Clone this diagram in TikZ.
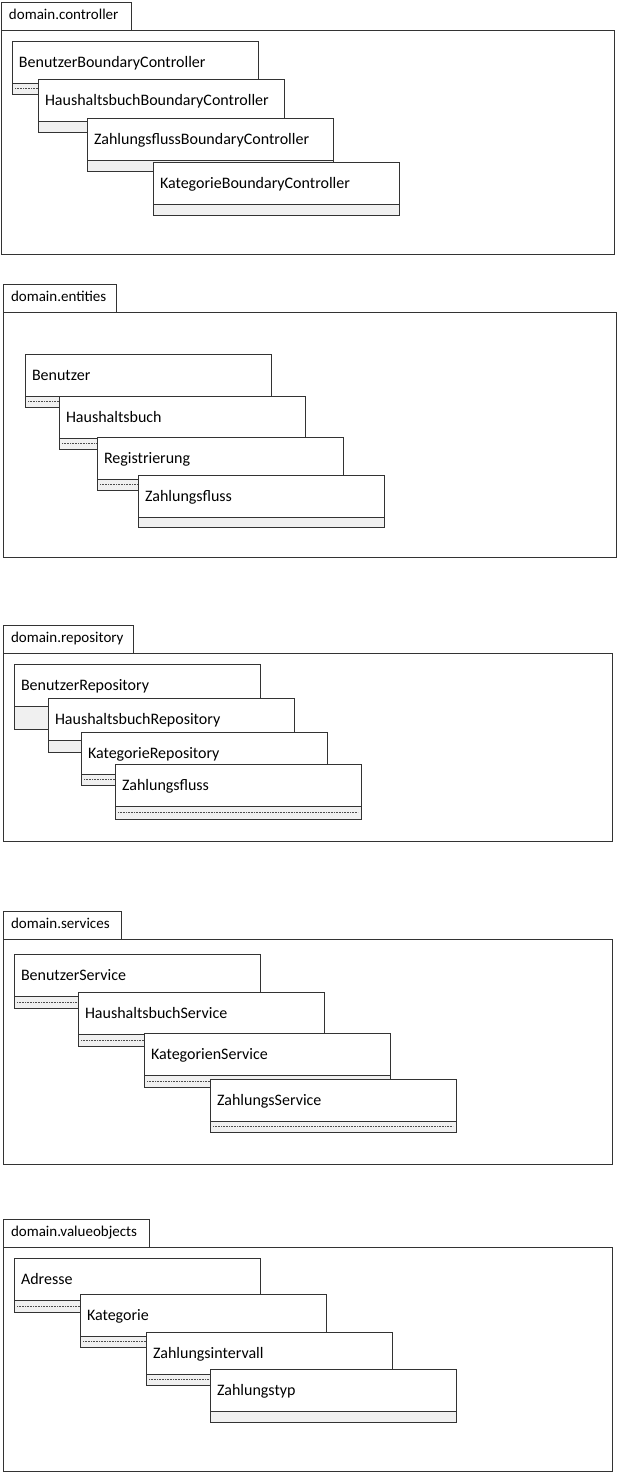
\documentclass[tikz,border=0pt]{standalone}
\usepackage{fontspec}
\setmainfont{Carlito}
\definecolor{compgray}{HTML}{F0F0F0}
\definecolor{linegray}{HTML}{333333}
\tikzset{
  namebox/.style={draw=linegray, fill=white, line width=1pt, outer sep=0pt,
    minimum height=42pt, text width=232pt, inner xsep=7pt, align=left,
    text height=12pt, text depth=2pt,
    font=\fontsize{16}{18}\selectfont},
  compbox/.style={draw=linegray, fill=compgray, line width=1pt, outer sep=0pt,
    minimum width=246pt, inner sep=0pt},
  sepline/.style={draw=black!70, line width=0.8pt, dash pattern=on 1pt off 0.6pt},
  tabbox/.style={draw=linegray, fill=white, line width=1pt, outer sep=0pt,
    inner xsep=8pt, align=left, text height=10pt, text depth=3pt,
    font=\fontsize{15}{17}\selectfont},
  framebox/.style={draw=linegray, line width=1pt, outer sep=0pt, inner sep=0pt}
}
\newcommand{\umlclass}[6]{%
  \node[compbox, minimum height=#5pt, anchor=north west] (#1c) at (#2,#3+42) {};
  \ifnum#6=1 \draw[sepline] ([xshift=3pt]#1c.west) -- ([xshift=-3pt]#1c.east);\fi
  \node[namebox, anchor=north west] (#1) at (#2,#3) {#4};
}
\newcommand{\umlframe}[8]{%
  \node[tabbox, text width=#4pt-16pt, minimum height=28pt, anchor=north west] (#1t) at (#2,#3) {#8};
  \node[framebox, minimum width=#5pt, minimum height=#6pt, anchor=north west] (#1) at (#2,#3+28) {};
}
\begin{document}
\begin{tikzpicture}[x=1pt,y=-1pt]
\useasboundingbox (0,0) rectangle (617,1473);
% frame 1
\umlframe{f1}{1}{2}{130}{613}{224}{}{domain.controller}
\umlclass{a1}{12}{41}{BenutzerBoundaryController}{11}{1}
\umlclass{a2}{38}{79}{HaushaltsbuchBoundaryController}{11}{0}
\umlclass{a3}{87}{118}{ZahlungsflussBoundaryController}{11}{0}
\umlclass{a4}{153}{162}{KategorieBoundaryController}{11}{0}
% frame 2
\umlframe{f2}{3}{284}{113}{613}{245}{}{domain.entities}
\umlclass{b1}{25}{354}{Benutzer}{11}{1}
\umlclass{b2}{59}{396}{Haushaltsbuch}{11}{1}
\umlclass{b3}{97}{437}{Registrierung}{11}{1}
\umlclass{b4}{138}{475}{Zahlungsfluss}{10}{0}
% frame 3
\umlframe{f3}{3}{625}{130}{609}{188}{}{domain.repository}
\umlclass{c1}{14}{664}{BenutzerRepository}{23}{0}
\umlclass{c2}{48}{698}{HaushaltsbuchRepository}{12}{0}
\umlclass{c3}{81}{732}{KategorieRepository}{11}{1}
\umlclass{c4}{115}{764}{Zahlungsfluss}{13}{1}
% frame 4
\umlframe{f4}{3}{911}{118}{609}{225}{}{domain.services}
\umlclass{d1}{14}{954}{BenutzerService}{12}{1}
\umlclass{d2}{78}{992}{HaushaltsbuchService}{12}{1}
\umlclass{d3}{144}{1033}{KategorienService}{12}{1}
\umlclass{d4}{210}{1079}{ZahlungsService}{11}{1}
% frame 5
\umlframe{f5}{3}{1219}{146}{609}{224}{}{domain.valueobjects}
\umlclass{e1}{14}{1258}{Adresse}{12}{1}
\umlclass{e2}{80}{1294}{Kategorie}{11}{1}
\umlclass{e3}{146}{1332}{Zahlungsintervall}{11}{1}
\umlclass{e4}{210}{1369}{Zahlungstyp}{11}{0}
\end{tikzpicture}
\end{document}
